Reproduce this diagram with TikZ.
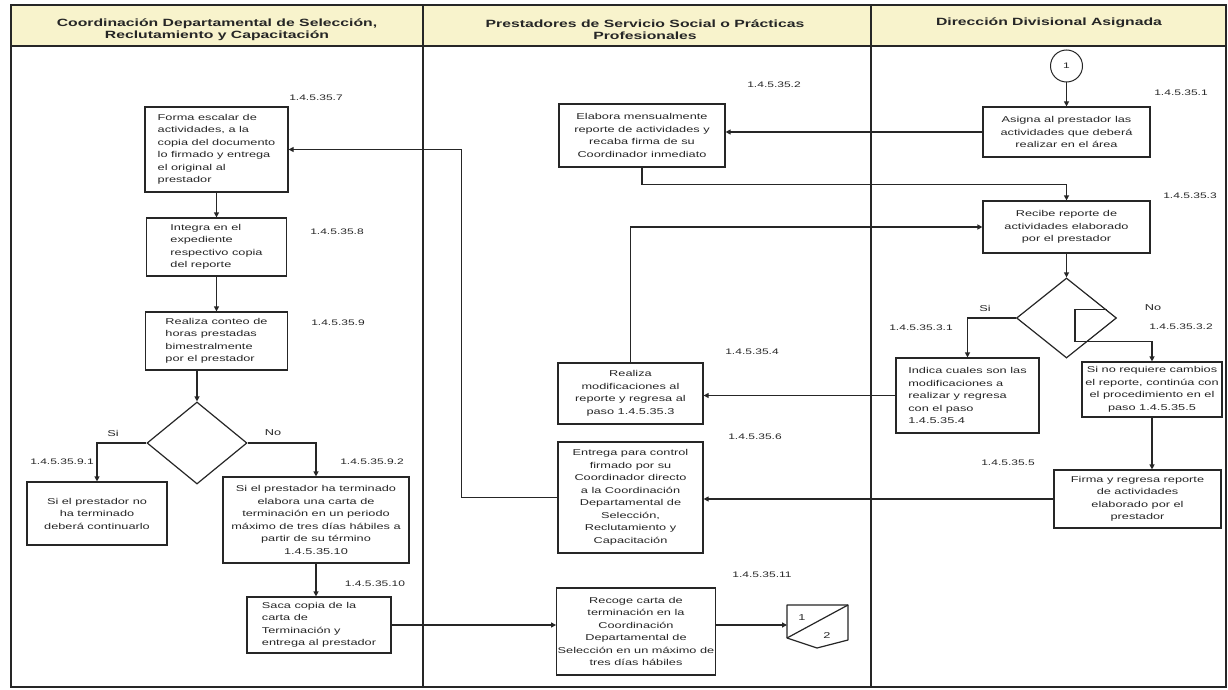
\documentclass[tikz,border=0pt]{standalone}
\usepackage{fontspec}
\setmainfont[FakeStretch=1.5]{Liberation Sans}
\usetikzlibrary{arrows.meta,shapes.geometric,calc}
\definecolor{ink}{HTML}{262626}
\definecolor{headfill}{HTML}{F8F3CC}
\begin{document}
\begin{tikzpicture}[x=1pt,y=-1pt,
  stepbox/.style={draw=ink, line width=1.2pt, inner sep=1pt, text=ink,
    font=\fontsize{8.5}{12.5}\selectfont, align=center},
  lbox/.style={stepbox, align=left},
  decision/.style={diamond, draw=ink, line width=1.2pt, inner sep=0pt},
  flow/.style={draw=ink, line width=1.2pt, -{Triangle[length=5pt,width=5pt]}},
  plain/.style={draw=ink, line width=1.2pt},
  tag/.style={text=ink, font=\fontsize{8}{10}\selectfont},
  answer/.style={text=ink, font=\fontsize{8.5}{10}\selectfont},
  head/.style={text=ink, align=center, font=\bfseries\fontsize{10.5}{11.5}\selectfont}]
\useasboundingbox (0,0) rectangle (1228,690);

% frame, header band and swimlanes
\fill[white] (0,0) rectangle (1228,690);
\fill[headfill] (11,5) rectangle (1226,46);
\draw[ink, line width=1.8pt] (11,5) rectangle (1226,687);
\draw[ink, line width=1.5pt] (11,46) -- (1226,46);
\draw[ink, line width=1.5pt] (423,5) -- (423,687);
\draw[ink, line width=1.5pt] (871,5) -- (871,687);

\node[head] (h1) at (217,29.5) {Coordinación Departamental de Selección,\\Reclutamiento y Capacitación};
\node[head] (h2) at (645,29.5) {Prestadores de Servicio Social o Prácticas\\Profesionales};
\node[head] (h3) at (1049,23) {Dirección Divisional Asignada};

% Dirección Divisional Asignada
\node[circle, draw=ink, line width=1pt, minimum size=32, inner sep=0pt, tag] (start) at (1066.5,66) {1};
\node[stepbox, minimum width=167, minimum height=50] (H) at (1066.5,132)
  {Asigna al prestador las\\actividades que deberá\\realizar en el área};
\node[stepbox, minimum width=167, minimum height=52] (J) at (1066.5,227)
  {Recibe reporte de\\actividades elaborado\\por el prestador};
\node[decision, minimum width=100, minimum height=80] (d2) at (1066.5,318) {};
\node[lbox, minimum width=143, minimum height=75] (L) at (967.5,395.5)
  {Indica cuales son las\\modificaciones a\\realizar y regresa\\con el paso\\1.4.5.35.4};
\node[stepbox, minimum width=140, minimum height=55] (M) at (1152,389.5)
  {Si no requiere cambios\\el reporte, continúa con\\el procedimiento en el\\paso 1.4.5.35.5};
\node[stepbox, minimum width=167, minimum height=58] (N) at (1137.5,499)
  {Firma y regresa reporte\\de actividades\\elaborado por el\\prestador};

% Prestadores de Servicio Social o Prácticas Profesionales
\node[stepbox, minimum width=166, minimum height=63] (I) at (642,135.5)
  {Elabora mensualmente\\reporte de actividades y\\recaba firma de su\\Coordinador inmediato};
\node[stepbox, minimum width=145, minimum height=61] (K) at (630.5,393.5)
  {Realiza\\modificaciones al\\reporte y regresa al\\paso 1.4.5.35.3};
\node[stepbox, minimum width=145, minimum height=111] (O) at (630.5,497.5)
  {Entrega para control\\firmado por su\\Coordinador directo\\a la Coordinación\\Departamental de\\Selección,\\Reclutamiento y\\Capacitación};
\node[stepbox, minimum width=156, minimum height=87] (G) at (636,631.5)
  {Recoge carta de\\terminación en la\\Coordinación\\Departamental de\\Selección en un máximo de\\tres días hábiles};

% Coordinación Departamental de Selección, Reclutamiento y Capacitación
\node[lbox, minimum width=143, minimum height=85] (A) at (216.5,149.5)
  {Forma escalar de\\actividades, a la\\copia del documento\\lo firmado y entrega\\el original al\\prestador};
\node[lbox, minimum width=140, minimum height=58] (B) at (216.5,247)
  {Integra en el\\expediente\\respectivo copia\\del reporte};
\node[lbox, minimum width=142, minimum height=58] (C) at (216.5,341)
  {Realiza conteo de\\horas prestadas\\bimestralmente\\por el prestador};
\node[decision, minimum width=100, minimum height=82] (d1) at (197,443) {};
\node[stepbox, minimum width=140, minimum height=63] (D) at (97,513.5)
  {Si el prestador no\\ha terminado\\deberá continuarlo};
\node[stepbox, minimum width=186, minimum height=86] (E) at (316,520)
  {Si el prestador ha terminado\\elabora una carta de\\terminación en un periodo\\máximo de tres días hábiles a\\partir de su término\\1.4.5.35.10};
\node[lbox, minimum width=144, minimum height=56] (F) at (319,625)
  {Saca copia de la\\carta de\\Terminación y\\entrega al prestador};

% off-page connector
\draw[plain, line join=round] (787,605) -- (848,605) -- (848,640) -- (817,648) -- (787,638) -- cycle;
\draw[plain] (787,638) -- (848,605);
\node[answer] (p1) at (802,618) {1};
\node[answer] (p2) at (827,636) {2};
\coordinate (op) at (787,625);

% step numbers
\node[tag] (t7) at (316,98) {1.4.5.35.7};
\node[tag] (t8) at (337,232) {1.4.5.35.8};
\node[tag] (t9) at (338,323) {1.4.5.35.9};
\node[tag] (t91) at (62,462) {1.4.5.35.9.1};
\node[tag] (t92) at (372,462) {1.4.5.35.9.2};
\node[tag] (t10) at (375,584) {1.4.5.35.10};
\node[tag] (t11) at (762,575) {1.4.5.35.11};
\node[tag] (t2) at (774,85) {1.4.5.35.2};
\node[tag] (t1) at (1181,93) {1.4.5.35.1};
\node[tag] (t3) at (1190,196) {1.4.5.35.3};
\node[tag] (t31) at (921,328) {1.4.5.35.3.1};
\node[tag] (t32) at (1181,327) {1.4.5.35.3.2};
\node[tag] (t4) at (752,352) {1.4.5.35.4};
\node[tag] (t6) at (755,437) {1.4.5.35.6};
\node[tag] (t5) at (1008,463) {1.4.5.35.5};

% decision answers
\node[answer] (s1) at (113,433) {Si};
\node[answer] (n1) at (273,433) {No};
\node[answer] (s2) at (985,308) {Si};
\node[answer] (n2) at (1153,308) {No};

% connectors
\draw[flow] (start.south) -- (start.south |- H.north);
\draw[flow] (H.west) -- (H.west -| I.east);
\draw[flow] (I.south) -- ++(0,17) -| (J.north);
\draw[flow] (K.north) |- (J.west);
\draw[flow] (J.south) -- (d2.north);
\draw[flow] (d2.west) -| (L.north);
\coordinate (nA) at ($(d2.north)!0.8!(d2.east)$);
\draw[flow] (nA) -- ++(-32,0) -- ++(0,32) -| (M.north);
\draw[flow] (L.west) -- (L.west -| K.east);
\draw[flow] (M.south) -- (M.south |- N.north);
\draw[flow] (N.west) -- (N.west -| O.east);
\draw[flow] (O.west) -- ++(-96,0) |- (A.east);
\draw[flow] (A.south) -- (A.south |- B.north);
\draw[flow] (B.south) -- (B.south |- C.north);
\draw[flow] (d1.north |- C.south) -- (d1.north);
\draw[flow] (d1.west) -| (D.north);
\draw[flow] (d1.east) -| (E.north);
\draw[flow] (E.south) -- (E.south |- F.north);
\draw[flow] (F.east) -- (F.east -| G.west);
\draw[flow] (G.east |- op) -- (op);
\end{tikzpicture}
\end{document}
